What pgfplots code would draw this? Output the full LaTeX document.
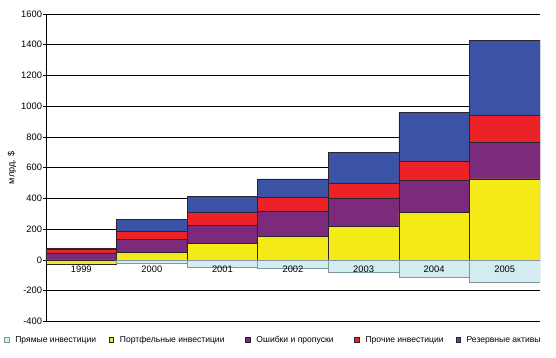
\documentclass[border=0pt]{standalone}
\usepackage{fontspec}
\setmainfont{Liberation Sans}
\usepackage{pgfplots}
\usepackage{pgfplotstable}
\pgfplotsset{compat=1.18}

\definecolor{cfdi}{RGB}{211,236,242}
\definecolor{cfdiedge}{RGB}{130,150,160}
\definecolor{cport}{RGB}{244,234,24}
\definecolor{cerr}{RGB}{123,42,124}
\definecolor{coth}{RGB}{236,34,40}
\definecolor{cres}{RGB}{58,83,164}
\definecolor{cedge}{RGB}{40,35,45}

% x: 0=1999 ... 6=2005
\pgfplotstableread{
x fdi port err oth res
0 0    -25  46  22  8
1 -20  50   84  50  80
2 -45  108  118 82  108
3 -55  152  167 86  122
4 -82  217  184 98  201
5 -113 310  208 126 318
6 -145 527  238 176 486
}\datatable

\pgfplotsset{
  common/.style={
    scale only axis, width=494bp, height=307.5bp,
    xmin=-0.5, xmax=6.5, ymin=-400, ymax=1600,
    /pgf/number format/assume math mode=true,
    /pgf/number format/1000 sep={},
    tick label style={font=\fontsize{9.4}{10}\selectfont},
  },
}

\begin{document}
\begin{tikzpicture}
\begin{axis}[
  common,
  ybar stacked, bar width=1,
  axis y line*=left, axis x line*=middle,
  hide obscured x ticks=false, hide obscured y ticks=false,
  ytick={-400,-200,...,1600},
  ymajorgrids, grid style={black, line width=0.6pt},
  axis line style={black, line width=0.6pt},
  xtick=\empty,
  y tick style={black, line width=0.6pt},
  major tick length=3bp, tick align=outside,
  yticklabel style={inner sep=0.8pt},
  ylabel={млрд. \$},
  every axis y label/.style={at={(axis description cs:-0.069,0.5)}, rotate=90, anchor=center, font=\fontsize{9.2}{10}\selectfont},
  legend style={at={(axis description cs:-0.085,-0.06)}, anchor=west, draw=none, fill=none,
    font=\fontsize{8.6}{9}\selectfont, inner sep=0pt, legend cell align=left,
    /tikz/every even column/.append style={column sep=0pt},
    /tikz/every odd column/.append style={column sep=4bp}},
  legend columns=5,
  legend image code/.code={\draw[#1, line width=0.5pt] (0bp,-2.3bp) rectangle (4.6bp,2.3bp);},
  every axis plot/.append style={line width=0.6pt},
]
\addplot[fill=cfdi, draw=cfdiedge] table[x=x, y=fdi] {\datatable};
\addlegendentry{\makebox[91.5bp][l]{Прямые инвестиции}}
\addplot[fill=cport, draw=cedge] table[x=x, y=port] {\datatable};
\addlegendentry{\makebox[123.5bp][l]{Портфельные инвестиции}}
\addplot[fill=cerr, draw=cedge] table[x=x, y=err] {\datatable};
\addlegendentry{\makebox[96bp][l]{Ошибки и пропуски}}
\addplot[fill=coth, draw=cedge] table[x=x, y=oth] {\datatable};
\addlegendentry{\makebox[88bp][l]{Прочие инвестиции}}
\addplot[fill=cres, draw=cedge] table[x=x, y=res] {\datatable};
\addlegendentry{Резервные активы}
\end{axis}
\begin{axis}[
  common,
  axis y line=none, axis x line*=middle,
  x axis line style={draw=none},
  hide obscured x ticks=false,
  xtick={0,1,2,3,4,5,6},
  xticklabels={1999,2000,2001,2002,2003,2004,2005},
  x tick style={draw=none}, major tick length=0pt,
  xticklabel style={inner sep=1.5pt, yshift=-4bp},
]
\end{axis}
\path (current axis.south west) ++(-46bp,-36.5bp) rectangle ++(556bp,358bp);
\end{tikzpicture}
\end{document}
